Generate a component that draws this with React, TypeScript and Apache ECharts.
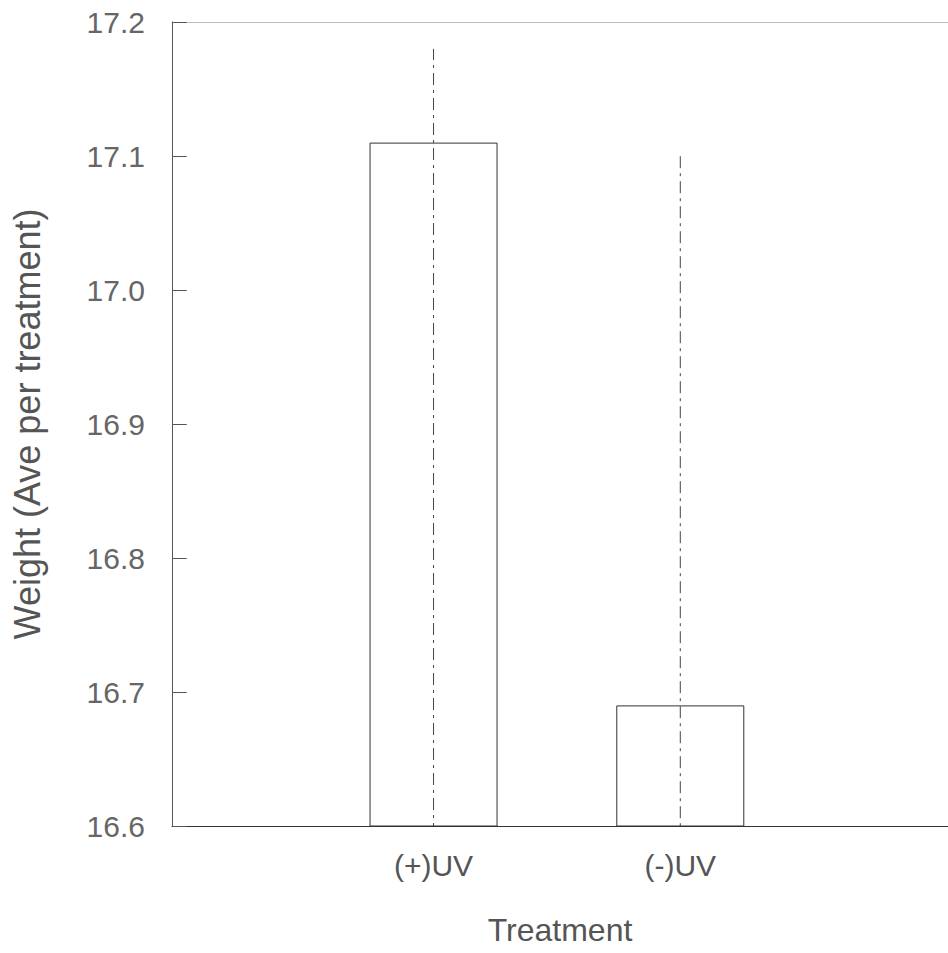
import React, { useEffect, useRef } from "react";
import * as echarts from "echarts";

const categories = ["(+)UV", "(-)UV"];
const means = [17.11, 16.69];
const errHigh = [17.18, 17.1];
const errLow = [16.5, 16.27];
const yTickLabels = ["16.6", "16.7", "16.8", "16.9", "17.0", "17.1", "17.2"];

const FONT = "Liberation Sans";

export default function App() {
  const ref = useRef<HTMLDivElement>(null);
  useEffect(() => {
    if (!ref.current) return;
    const chart = echarts.init(ref.current, null, { renderer: "svg" });
    const yMin = parseFloat(yTickLabels[0]);
    const yMax = parseFloat(yTickLabels[yTickLabels.length - 1]);
    const xMin = -0.06;
    const xMax = 3.085;
    const positions = categories.map((_, i) => i + 1);
    chart.setOption({
      animation: false,
      backgroundColor: "#ffffff",
      grid: { left: 172, right: -1, top: 22, bottom: 127, show: false },
      xAxis: [
        {
          type: "value",
          min: xMin,
          max: xMax,
          name: "Treatment",
          nameLocation: "middle",
          nameGap: 88,
          nameTextStyle: { fontFamily: FONT, fontSize: 32, color: "#555" },
          axisLine: { show: true, onZero: false, lineStyle: { color: "#333", width: 1 } },
          axisTick: { show: false },
          splitLine: { show: false },
          axisLabel: {
            customValues: positions,
            formatter: (v: number) => {
              const i = Math.round(v) - 1;
              return Math.abs(v - Math.round(v)) < 1e-6 && categories[i] ? categories[i] : "";
            },
            fontFamily: FONT,
            fontSize: 30,
            color: "#555",
            margin: 24,
          },
        },
        {
          type: "value",
          position: "top",
          min: xMin,
          max: xMax,
          axisLine: { show: true, onZero: false, lineStyle: { color: "#bbb", width: 1 } },
          axisTick: { show: false },
          axisLabel: { show: false },
          splitLine: { show: false },
        },
      ],
      yAxis: [
        {
          type: "value",
          min: yMin,
          max: yMax,
          interval: 0.1,
          name: "Weight (Ave per treatment)",
          nameLocation: "middle",
          nameGap: 127,
          nameTextStyle: { fontFamily: FONT, fontSize: 36, color: "#555" },
          axisLine: { show: true, onZero: false, lineStyle: { color: "#555", width: 1 } },
          axisTick: { show: true, inside: true, length: 14, lineStyle: { color: "#555" } },
          splitLine: { show: false },
          axisLabel: {
            formatter: (v: number) => v.toFixed(1),
            fontFamily: FONT,
            fontSize: 30,
            color: "#666",
            margin: 27,
          },
        },
        {
          type: "value",
          position: "right",
          min: yMin,
          max: yMax,
          interval: 0.1,
          axisLine: { show: false },
          axisTick: { show: true, inside: true, length: 8, lineStyle: { color: "#555" } },
          axisLabel: { show: false },
          splitLine: { show: false },
        },
      ],
      series: [
        {
          type: "bar",
          xAxisIndex: 0,
          yAxisIndex: 0,
          barWidth: 128,
          data: positions.map((p, i) => [p, means[i]]),
          itemStyle: { color: "#ffffff", borderColor: "#333", borderWidth: 1 },
          clip: true,
          z: 2,
        },
        {
          type: "custom",
          xAxisIndex: 0,
          yAxisIndex: 0,
          clip: true,
          z: 3,
          data: positions.map((p, i) => [p, errLow[i], errHigh[i]]),
          renderItem: (params: any, api: any) => {
            const x = api.value(0);
            const lo = api.coord([x, api.value(1)]);
            const hi = api.coord([x, api.value(2)]);
            return {
              type: "line",
              shape: { x1: lo[0], y1: lo[1], x2: hi[0], y2: hi[1] },
              style: { stroke: "#444", lineWidth: 1, lineDash: [12, 5, 3, 5] },
            };
          },
        },
      ],
    });
    return () => chart.dispose();
  }, []);
  return (
    <div
      ref={ref}
      style={{ position: "fixed", left: 0, top: 0, width: 948, height: 953, background: "#fff" }}
    />
  );
}
